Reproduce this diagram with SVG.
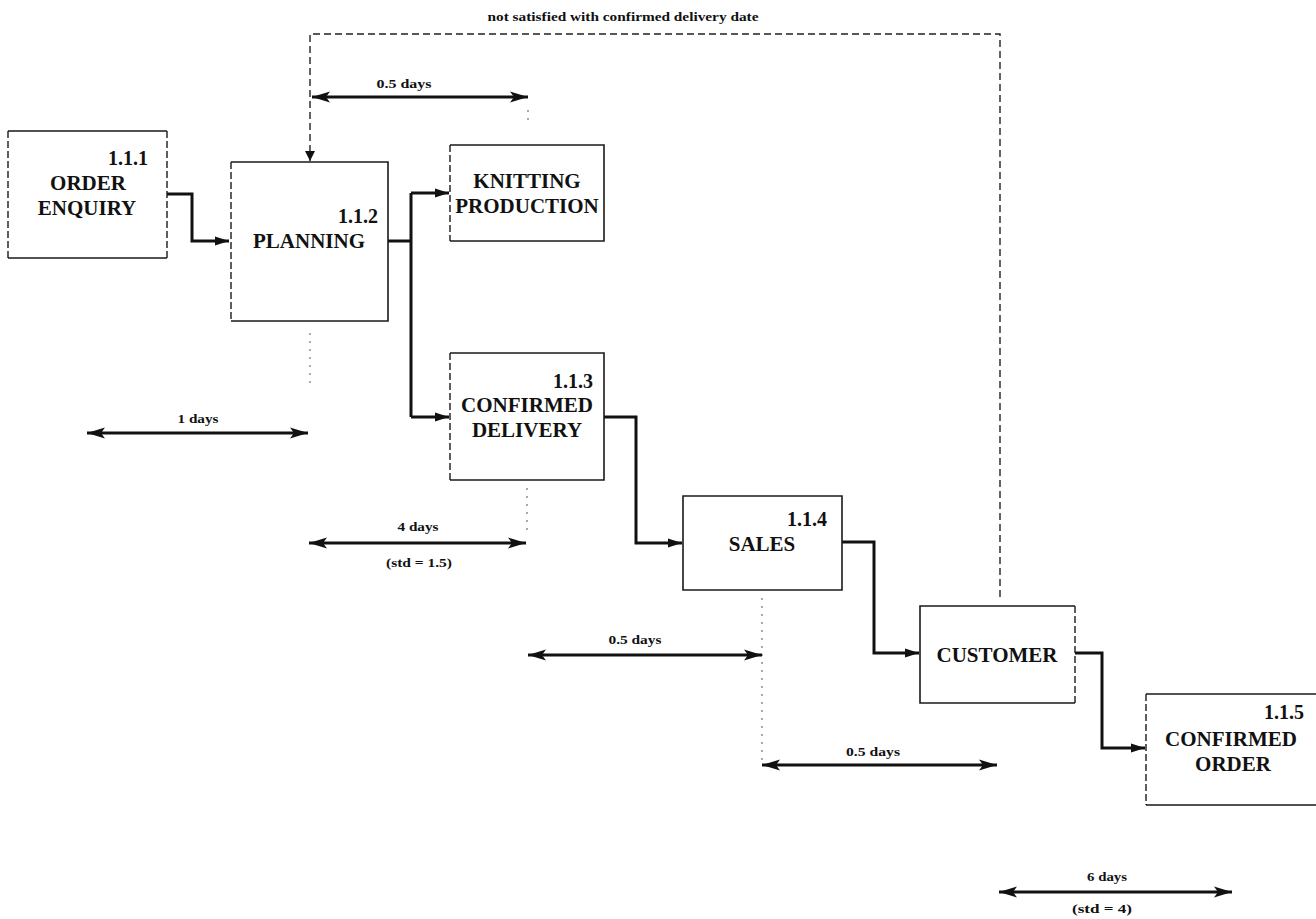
<svg xmlns="http://www.w3.org/2000/svg" width="1316" height="919" viewBox="0 0 1316 919">
<defs>
<style>
.bg{fill:#ffffff}
.edge{fill:none;stroke:#1a1a1a;stroke-width:1.6}
.edged{fill:none;stroke:#1a1a1a;stroke-width:1.4;stroke-dasharray:7 3}
.title{font-family:"Liberation Serif","Times New Roman",serif;font-weight:bold;font-size:21px;fill:#111}
.num{font-family:"Liberation Serif","Times New Roman",serif;font-weight:bold;font-size:20px;fill:#111;text-anchor:end}
.lbl{font-family:"Liberation Serif","Times New Roman",serif;font-weight:bold;font-size:13px;fill:#111;text-anchor:middle}
.conn{fill:none;stroke:#111;stroke-width:3;stroke-linejoin:miter}
.dim{fill:none;stroke:#111;stroke-width:2.8}
.loop{fill:none;stroke:#222;stroke-width:1.4;stroke-dasharray:7 4}
.dot{fill:none;stroke:#555;stroke-width:1;stroke-dasharray:2 6}
</style>
<marker id="ah" markerUnits="userSpaceOnUse" markerWidth="16" markerHeight="12" refX="14" refY="6" orient="auto">
<path d="M0,1.5 L14,6 L0,10.5 Z" fill="#111"/>
</marker>
<marker id="dh" markerUnits="userSpaceOnUse" markerWidth="20" markerHeight="14" refX="18" refY="7" orient="auto-start-reverse">
<path d="M0,1.5 L18,7 L0,12.5 L4,7 Z" fill="#111"/>
</marker>
<marker id="lh" markerUnits="userSpaceOnUse" markerWidth="12" markerHeight="16" refX="10" refY="8" orient="auto">
<path d="M0,3 L10,8 L0,13 Z" fill="#111"/>
</marker>
</defs>
<rect class="bg" x="0" y="0" width="1316" height="919"/>

<g id="connectors">
<path class="conn" d="M167,194 H192 V241 H229" marker-end="url(#ah)"/>
<path class="conn" d="M388,241 H411"/>
<path class="conn" d="M411,193 V417"/>
<path class="conn" d="M411,193 H449" marker-end="url(#ah)"/>
<path class="conn" d="M411,417 H449" marker-end="url(#ah)"/>
<path class="conn" d="M604,417 H636 V543 H682" marker-end="url(#ah)"/>
<path class="conn" d="M842,542 H874 V653 H919" marker-end="url(#ah)"/>
<path class="conn" d="M1075,653 H1102 V748 H1145" marker-end="url(#ah)"/>
<path class="loop" d="M1000,597 V34 H310 V161" marker-end="url(#lh)"/>
<text class="lbl" x="623" y="21" textLength="271" lengthAdjust="spacingAndGlyphs">not satisfied with confirmed delivery date</text>
</g>

<g id="timeline">
<path class="dot" d="M310,333 V385"/>
<path class="dot" d="M528,110 V126"/>
<path class="dot" d="M527,488 V533"/>
<path class="dot" d="M762,598 V765"/>
<path class="dim" d="M312,97 H528" marker-start="url(#dh)" marker-end="url(#dh)"/>
<text class="lbl" x="404" y="88" textLength="55" lengthAdjust="spacingAndGlyphs">0.5 days</text>
<path class="dim" d="M87,433 H308" marker-start="url(#dh)" marker-end="url(#dh)"/>
<text class="lbl" x="198" y="423" textLength="41" lengthAdjust="spacingAndGlyphs">1 days</text>
<path class="dim" d="M309,543 H526" marker-start="url(#dh)" marker-end="url(#dh)"/>
<text class="lbl" x="418" y="531" textLength="41" lengthAdjust="spacingAndGlyphs">4 days</text>
<text class="lbl" x="419" y="567" font-size="12" textLength="66" lengthAdjust="spacingAndGlyphs">(std = 1.5)</text>
<path class="dim" d="M528,655 H762" marker-start="url(#dh)" marker-end="url(#dh)"/>
<text class="lbl" x="635" y="644" textLength="53" lengthAdjust="spacingAndGlyphs">0.5 days</text>
<path class="dim" d="M762,765 H997" marker-start="url(#dh)" marker-end="url(#dh)"/>
<text class="lbl" x="873" y="756" textLength="54" lengthAdjust="spacingAndGlyphs">0.5 days</text>
<path class="dim" d="M999,892 H1232" marker-start="url(#dh)" marker-end="url(#dh)"/>
<text class="lbl" x="1107" y="881" textLength="40" lengthAdjust="spacingAndGlyphs">6 days</text>
<text class="lbl" x="1102" y="913" font-size="12" textLength="60" lengthAdjust="spacingAndGlyphs">(std = 4)</text>
</g>

<g id="n111">
<path class="edge" d="M8,131 H167 M8,258 H167"/>
<path class="edged" d="M8,131 V258 M167,131 V258"/>
<text class="num" x="148" y="165">1.1.1</text>
<text class="title" x="88" y="190" text-anchor="middle">ORDER</text>
<text class="title" x="87" y="215" text-anchor="middle">ENQUIRY</text>
</g>

<g id="n112">
<path class="edge" d="M231,162 H388 V321 H231"/>
<path class="edged" d="M231,162 V321" stroke-dasharray="6 3 1 3"/>
<text class="num" x="378" y="223">1.1.2</text>
<text class="title" x="309" y="248" text-anchor="middle">PLANNING</text>
</g>

<g id="knitting">
<path class="edge" d="M450,145 H604 V241 H450"/>
<path class="edged" d="M450,145 V241"/>
<text class="title" x="527" y="188" text-anchor="middle">KNITTING</text>
<text class="title" x="527" y="213" text-anchor="middle">PRODUCTION</text>
</g>

<g id="n113">
<path class="edge" d="M450,353 H604 V480 H450"/>
<path class="edged" d="M450,353 V480"/>
<text class="num" x="593" y="388">1.1.3</text>
<text class="title" x="527" y="412" text-anchor="middle">CONFIRMED</text>
<text class="title" x="527" y="437" text-anchor="middle">DELIVERY</text>
</g>

<g id="n114">
<path class="edge" d="M683,496 H842 V590 H683 Z"/>
<text class="num" x="827" y="526">1.1.4</text>
<text class="title" x="762" y="551" text-anchor="middle">SALES</text>
</g>

<g id="customer">
<path class="edge" d="M1075,606 H920 V703 H1075"/>
<path class="edged" d="M1075,606 V703"/>
<text class="title" x="997" y="662" text-anchor="middle">CUSTOMER</text>
</g>

<g id="n115">
<path class="edge" d="M1330,694 H1146 M1146,805 H1330"/>
<path class="edged" d="M1146,694 V805"/>
<text class="num" x="1304" y="719">1.1.5</text>
<text class="title" x="1231" y="746" text-anchor="middle">CONFIRMED</text>
<text class="title" x="1233" y="771" text-anchor="middle">ORDER</text>
</g>
</svg>
